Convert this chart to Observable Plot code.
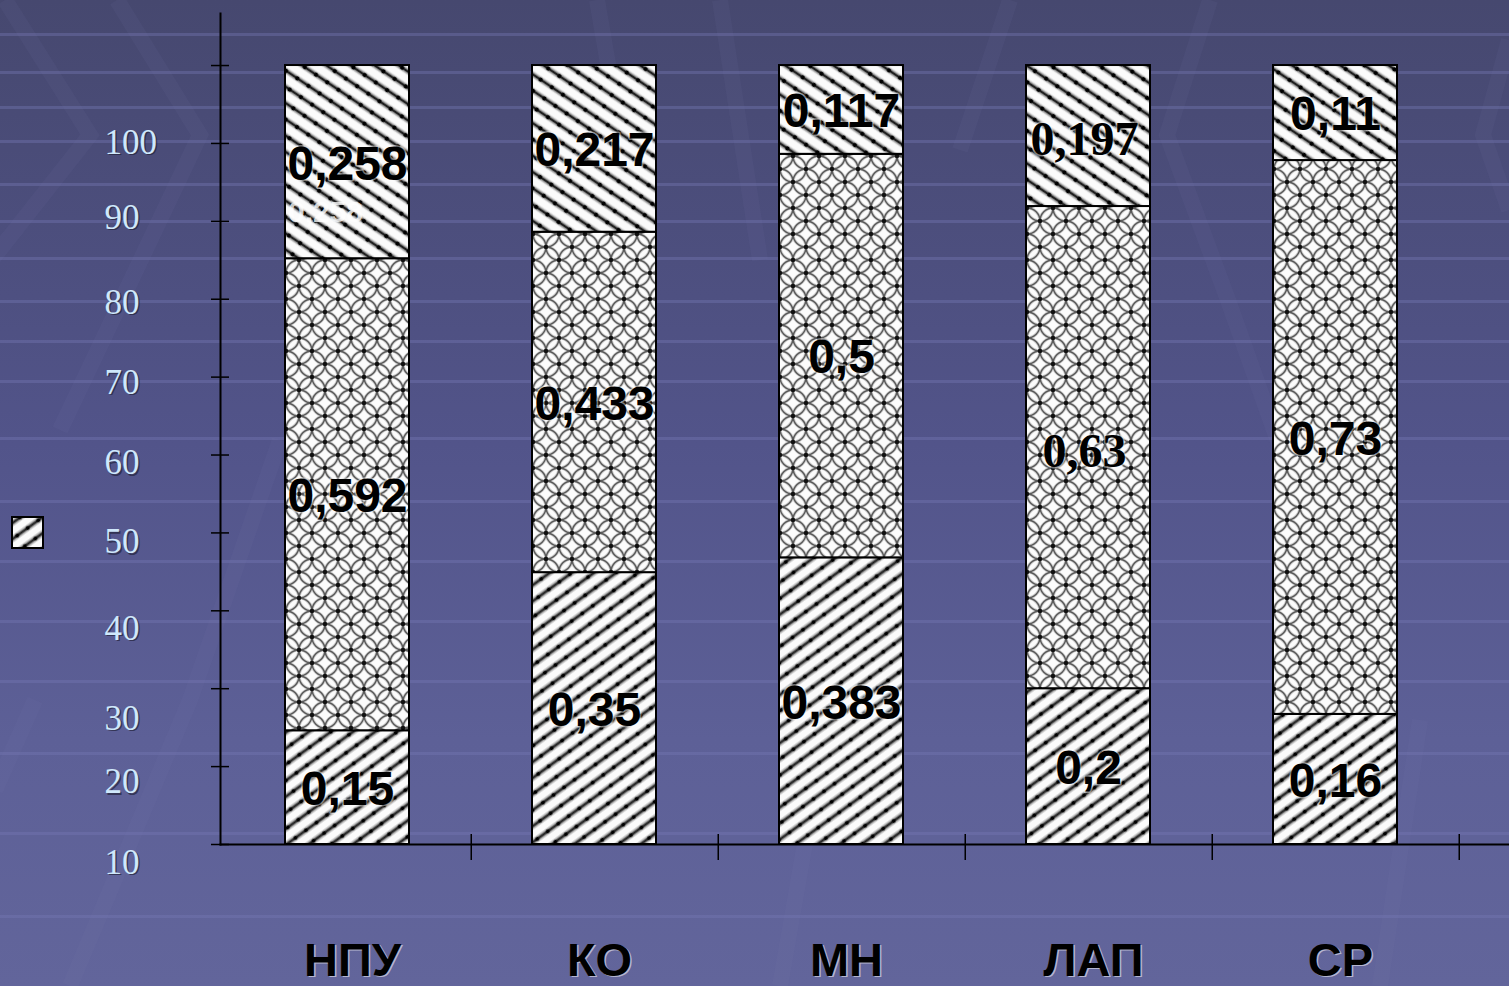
<!DOCTYPE html>
<html><head><meta charset="utf-8">
<script src="https://cdn.jsdelivr.net/npm/d3@7"></script>
<script src="https://cdn.jsdelivr.net/npm/@observablehq/plot@0.6"></script>
<style>
html,body{margin:0;padding:0;width:1509px;height:986px;overflow:hidden;}
body{background:linear-gradient(#46486f 0%, #52548a 45%, #5d6097 75%, #62659b 100%);}
#wrap{position:relative;width:1509px;height:986px;}
#bg{position:absolute;left:0;top:0;}
#chart{position:absolute;left:0;top:0;}
#legend{position:absolute;left:11px;top:516px;}
</style></head><body>
<div id="wrap">
<svg id="bg" width="1509" height="986"></svg>
<div id="chart"></div>
<svg id="legend" width="33" height="33"></svg>
</div>
<script>
// ---- data ----
const categories = ["НПУ", "КО", "МН", "ЛАП", "СР"];
const seriesNames = ["Ряд 1", "Ряд 2", "Ряд 3"];
// segment heights as drawn (share of the bar)
const bottomValues = [0.146, 0.349, 0.368, 0.200, 0.167];
const middleValues = [0.606, 0.437, 0.518, 0.619, 0.711];
const topValues = [0.248, 0.214, 0.114, 0.181, 0.122];
// value labels printed on the segments
const bottomLabels = ["0,15", "0,35", "0,383", "0,2", "0,16"];
const middleLabels = ["0,592", "0,433", "0,5", "0,63", "0,73"];
const topLabels = ["0,258", "0,217", "0,117", "0,197", "0,11"];
const yTickValues = [0, 0.1, 0.2, 0.3, 0.4, 0.5, 0.6, 0.7, 0.8, 0.9, 1.0];
const yTickLabels = ["100", "90", "80", "70", "60", "50", "40", "30", "20", "10"];
const yTickLabelAt = [0.901, 0.805, 0.696, 0.593, 0.490, 0.388, 0.277, 0.162, 0.080, -0.023];
const serifLabels = [["ЛАП", "Ряд 3"], ["ЛАП", "Ряд 2"]];
const ghostLabels = [["НПУ", "Ряд 3", "0,258"]];

const seriesValues = [bottomValues, middleValues, topValues];
const seriesLabels = [bottomLabels, middleLabels, topLabels];
const data = categories.flatMap((c, i) => seriesNames.map((s, j) => ({category: c, series: s, value: seriesValues[j][i], label: seriesLabels[j][i]})));
const isSerif = d => serifLabels.some(([c, s]) => c === d.category && s === d.series);
const ghostText = d => { const g = ghostLabels.find(([c, s]) => c === d.category && s === d.series); return g ? g[2] : ""; };
const patternIds = ["patBottom", "patMiddle", "patTop"];

const sans = "'Liberation Sans', Arial, sans-serif";
const serif = "'Liberation Serif', 'Times New Roman', serif";

const plot = Plot.plot({
  width: 1509, height: 986,
  marginLeft: 220, marginRight: 0, marginTop: 13, marginBottom: 142,
  style: {background: "transparent", overflow: "visible"},
  x: {domain: categories, range: [222, 1459.5], paddingInner: 0.5, paddingOuter: 0.25, align: 0.5, axis: null},
  y: {domain: [0, 1.0668], axis: null},
  color: {domain: seriesNames, range: patternIds.map(id => `url(#${id})`)},
  marks: [
    Plot.barY(data, Plot.stackY({x: "category", y: "value", fill: "series", offset: "normalize", stroke: "black", strokeWidth: 2})),
    Plot.text(data, Plot.stackY({x: "category", y: "value", offset: "normalize", text: d => isSerif(d) ? "" : d.label,
      fontFamily: sans, fontWeight: "bold", fontSize: 48, fill: "black", stroke: "white", strokeWidth: 3, strokeOpacity: 0.45, paintOrder: "stroke", dy: 2})),
    Plot.text(data, Plot.stackY({x: "category", y: "value", offset: "normalize", text: d => isSerif(d) ? d.label : "",
      fontFamily: serif, fontWeight: "bold", fontSize: 48, fill: "black", stroke: "white", strokeWidth: 3, strokeOpacity: 0.45, paintOrder: "stroke", dx: -4, dy: 4})),
    Plot.text(data, Plot.stackY({x: "category", y: "value", offset: "normalize", text: ghostText,
      fontFamily: sans, fontWeight: "bold", fontSize: 30, fill: "white", fillOpacity: 0.8, dx: -22, dy: 50})),
    Plot.frame({anchor: "left", stroke: "black", strokeWidth: 2}),
    Plot.frame({anchor: "bottom", stroke: "black", strokeWidth: 2}),
    Plot.axisY(yTickValues, {tickSize: 18, dx: 9, tickFormat: () => "", label: null, stroke: "black", strokeWidth: 1.5}),
    Plot.axisX(categories, {tickSize: 26, dx: 123.75, dy: -10, tickFormat: () => "", label: null, stroke: "black", strokeWidth: 1.5}),
    // y tick labels (shadow + text)
    Plot.text(yTickLabels, {y: (d, i) => yTickLabelAt[i], text: d => d, frameAnchor: "left", textAnchor: "start", dx: -114.5, dy: 1.5,
      fontFamily: serif, fontSize: 35, fill: "#23233a", fillOpacity: 0.7}),
    Plot.text(yTickLabels, {y: (d, i) => yTickLabelAt[i], text: d => d, frameAnchor: "left", textAnchor: "start", dx: -116,
      fontFamily: serif, fontSize: 35, fill: "#cfe8fb"}),
    // x category labels (shadow + text)
    Plot.text(categories, {x: d => d, frameAnchor: "bottom", dy: 132.5, dx: 6.5, text: d => d,
      fontFamily: sans, fontWeight: "bold", fontSize: 47, fill: "white", fillOpacity: 0.55}),
    Plot.text(categories, {x: d => d, frameAnchor: "bottom", dy: 131, dx: 5, text: d => d,
      fontFamily: sans, fontWeight: "bold", fontSize: 47, fill: "black"})
  ]
});

const patternDefs = `
<pattern id="patBottom" width="13" height="13" patternUnits="userSpaceOnUse" patternTransform="rotate(-36)">
  <rect width="13" height="13" fill="#fbfbfb"/>
  <rect y="3.4" width="13" height="6.2" fill="#c4c4c4"/>
  <rect y="4.6" width="13" height="3.8" fill="#888"/>
  <rect y="5.5" width="13" height="2" fill="#1e1e1e"/>
  <circle cx="6.5" cy="6.5" r="2.1" fill="#000"/>
</pattern>
<pattern id="patTop" width="13.5" height="13.5" patternUnits="userSpaceOnUse" patternTransform="rotate(34)">
  <rect width="13.5" height="13.5" fill="#fbfbfb"/>
  <rect y="3.6" width="13.5" height="6.2" fill="#c4c4c4"/>
  <rect y="4.8" width="13.5" height="3.8" fill="#888"/>
  <rect y="5.7" width="13.5" height="2" fill="#1e1e1e"/>
  <circle cx="6.75" cy="6.75" r="2.1" fill="#000"/>
</pattern>
<pattern id="patMiddle" width="26" height="26" patternUnits="userSpaceOnUse">
  <rect width="26" height="26" fill="#fcfcfc"/>
  <g fill="none" stroke="#d0d0d0" stroke-width="3.2">
    <circle cx="0" cy="0" r="13"/><circle cx="26" cy="0" r="13"/>
    <circle cx="0" cy="26" r="13"/><circle cx="26" cy="26" r="13"/>
    <circle cx="13" cy="13" r="13"/>
  </g>
  <g fill="none" stroke="#5a5a5a" stroke-width="1.5">
    <circle cx="0" cy="0" r="13"/><circle cx="26" cy="0" r="13"/>
    <circle cx="0" cy="26" r="13"/><circle cx="26" cy="26" r="13"/>
    <circle cx="13" cy="13" r="13"/>
  </g>
  <g fill="#111">
    <circle cx="13" cy="0" r="2.3"/><circle cx="0" cy="13" r="2.3"/>
    <circle cx="26" cy="13" r="2.3"/><circle cx="13" cy="26" r="2.3"/>
  </g>
</pattern>`;

const defs = document.createElementNS("http://www.w3.org/2000/svg", "defs");
defs.innerHTML = patternDefs;
plot.insertBefore(defs, plot.firstChild);
document.getElementById("chart").appendChild(plot);

// legend swatch
const lg = document.getElementById("legend");
lg.innerHTML = `<defs>${patternDefs.replace(/id="pat/g, 'id="lg')}</defs>
<rect x="1" y="1" width="31" height="31" fill="url(#lgBottom)" stroke="black" stroke-width="2"/>`;

// decorative template background
const bgStripes = [33, 71, 106, 140, 183, 220, 257, 300, 340, 380, 437, 500, 560, 620, 680, 752, 832, 915];
const bg = d3.select("#bg");
bg.selectAll("rect.s").data(bgStripes).join("rect").attr("class", "s")
  .attr("x", 0).attr("y", d => d).attr("width", 1509).attr("height", 3)
  .attr("fill", "#7679b4").attr("opacity", 0.4);
const bgBands = [
  [[5, 0], [90, 135], [-10, 262]],
  [[117, 0], [200, 135], [60, 430]],
  [[70, 986], [190, 700], [280, 440]],
  [[-5, 790], [35, 700]],
  [[1210, 0], [1167, 135], [1228, 300], [1320, 560]],
  [[1509, 40], [1483, 135], [1509, 210]],
  [[597, 0], [640, 250]],
  [[720, 0], [760, 260]],
  [[1010, 0], [960, 150]],
  [[1380, 986], [1420, 720]],
  [[780, 986], [830, 700]]
];
bg.selectAll("path.b").data(bgBands).join("path").attr("class", "b")
  .attr("d", d => d3.line()(d)).attr("fill", "none")
  .attr("stroke", "#7a7db8").attr("stroke-opacity", 0.08).attr("stroke-width", 16);
</script>
</body></html>
